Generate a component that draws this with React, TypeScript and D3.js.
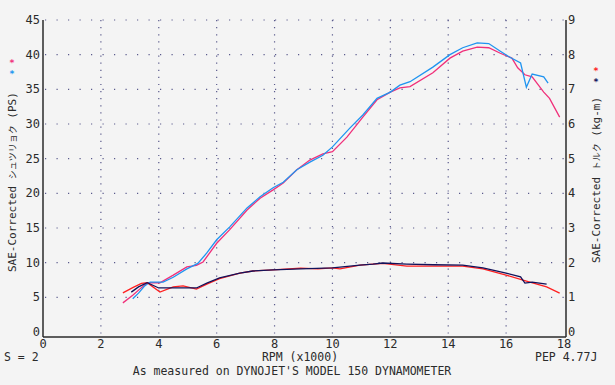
import React, { Component } from "react";
import * as d3 from "d3";

// power (PS) runs - pink and blue
const pinkRpm = [2.76, 3.1, 3.4, 3.6, 4.04, 4.5, 4.97, 5.3, 5.53, 6.0, 6.46, 7.05, 7.5, 7.95, 8.3, 8.77, 9.22, 9.67, 10.0, 10.5, 11.05, 11.54, 12.0, 12.33, 12.68, 13.47, 14.06, 14.5, 15.0, 15.4, 15.8, 16.2, 16.4, 16.65, 16.9, 17.3, 17.5, 17.85];
const pinkPs = [4.2, 5.3, 6.4, 7.1, 7.1, 8.2, 9.4, 9.6, 10.1, 12.8, 14.8, 17.6, 19.3, 20.5, 21.5, 23.4, 24.8, 25.7, 26.0, 28.1, 31.0, 33.5, 34.6, 35.2, 35.4, 37.4, 39.5, 40.5, 41.1, 41.0, 40.2, 39.5, 38.1, 37.1, 36.8, 34.6, 33.7, 31.0];

const blueRpm = [3.1, 3.3, 3.5, 3.7, 4.15, 4.5, 4.97, 5.35, 5.66, 6.0, 6.46, 7.05, 7.5, 7.95, 8.3, 8.77, 9.22, 9.67, 10.0, 10.6, 11.05, 11.54, 12.0, 12.33, 12.68, 13.47, 14.06, 14.5, 15.0, 15.4, 15.8, 16.1, 16.5, 16.7, 16.9, 17.3, 17.45];
const bluePs = [4.8, 5.6, 6.6, 7.2, 7.2, 7.9, 9.1, 9.9, 11.4, 13.3, 15.2, 17.9, 19.5, 20.8, 21.6, 23.4, 24.5, 25.5, 26.7, 29.4, 31.3, 33.7, 34.6, 35.6, 36.1, 38.2, 40.0, 41.0, 41.7, 41.6, 40.5, 39.7, 38.8, 35.3, 37.2, 36.8, 35.9];

// torque (kg-m) runs - red and navy
const redRpm = [2.76, 3.1, 3.4, 3.6, 4.04, 4.5, 4.84, 5.3, 5.66, 6.1, 6.8, 7.25, 7.95, 8.9, 9.5, 10.0, 10.26, 10.95, 11.4, 11.74, 12.57, 13.5, 14.5, 15.2, 16.0, 16.7, 17.4, 17.85];
const redKg = [1.13, 1.28, 1.4, 1.42, 1.15, 1.3, 1.33, 1.24, 1.38, 1.54, 1.7, 1.76, 1.79, 1.84, 1.82, 1.85, 1.82, 1.93, 1.96, 1.98, 1.9, 1.9, 1.9, 1.82, 1.64, 1.47, 1.3, 1.12];

const navyRpm = [3.05, 3.3, 3.6, 4.0, 4.5, 5.3, 5.66, 6.1, 6.8, 7.25, 7.95, 8.9, 10.0, 10.26, 10.95, 11.4, 11.74, 12.57, 13.5, 14.5, 15.2, 16.0, 16.5, 16.65, 16.9, 17.4];
const navyKg = [1.15, 1.3, 1.42, 1.27, 1.27, 1.27, 1.41, 1.56, 1.7, 1.76, 1.79, 1.82, 1.85, 1.87, 1.93, 1.96, 1.99, 1.96, 1.94, 1.93, 1.85, 1.7, 1.59, 1.41, 1.44, 1.38];

const xTicks = [0, 2, 4, 6, 8, 10, 12, 14, 16, 18];
const psTicks = [0, 5, 10, 15, 20, 25, 30, 35, 40, 45];
const kgTicks = [0, 1, 2, 3, 4, 5, 6, 7, 8, 9];

const FONT = "'DejaVu Sans Mono', 'Liberation Mono', monospace";
const INK = "#2b2b2b";

class App extends Component {
  svgRef = React.createRef<SVGSVGElement>();

  componentDidMount() {
    const width = 615;
    const height = 385;
    const left = 43, right = 566, top = 20, bottom = 332, axisY = 337;

    const svg = d3.select(this.svgRef.current).attr("width", width).attr("height", height);
    svg.selectAll("*").remove();
    svg.append("rect").attr("width", width).attr("height", height).attr("fill", "#f4f4f4");

    const xScale = d3.scaleLinear().domain([0, 18]).range([left, right - 2]);
    const yPs = d3.scaleLinear().domain([0, 45]).range([bottom, top]);
    const yKg = d3.scaleLinear().domain([0, 9]).range([bottom, top]);

    // dotted grid
    const grid = svg.append("g");
    grid.selectAll(".hgrid").data(psTicks.slice(1)).join("line").attr("class", "hgrid")
      .attr("x1", left + 2).attr("x2", right - 2)
      .attr("y1", d => yPs(d)).attr("y2", d => yPs(d))
      .attr("stroke", "#5a5a8c").attr("stroke-width", 1.2).attr("stroke-dasharray", "1.2,10.3");
    grid.selectAll(".vgrid").data(xTicks.slice(1, -1)).join("line").attr("class", "vgrid")
      .attr("x1", d => xScale(d)).attr("x2", d => xScale(d))
      .attr("y1", top).attr("y2", axisY)
      .attr("stroke", "#5a5a8c").attr("stroke-width", 1.2).attr("stroke-dasharray", "1.2,5.9");

    // axes frame
    svg.append("line").attr("x1", left).attr("x2", left).attr("y1", top).attr("y2", axisY).attr("stroke", INK).attr("stroke-width", 1.5);
    svg.append("line").attr("x1", right).attr("x2", right).attr("y1", top).attr("y2", axisY).attr("stroke", INK).attr("stroke-width", 1.5);
    svg.append("line").attr("x1", left).attr("x2", right).attr("y1", axisY).attr("y2", axisY).attr("stroke", INK).attr("stroke-width", 1.5);

    const txt = (g) => g.attr("font-family", FONT).attr("fill", INK);

    svg.selectAll(".ltick").data(psTicks).join("text").attr("class", "ltick").call(txt)
      .attr("x", left - 3).attr("y", d => yPs(d) + 4).attr("text-anchor", "end").attr("font-size", "12px").text(d => d);
    svg.selectAll(".rtick").data(kgTicks).join("text").attr("class", "rtick").call(txt)
      .attr("x", right + 2).attr("y", d => yKg(d) + 4).attr("font-size", "12px").text(d => d);
    svg.selectAll(".xtick").data(xTicks).join("text").attr("class", "xtick").call(txt)
      .attr("x", d => xScale(d)).attr("y", 348).attr("text-anchor", "middle").attr("font-size", "12px").text(d => d);

    // curves
    const series = [
      { rpm: pinkRpm, val: pinkPs, y: yPs, color: "#f0307a" },
      { rpm: blueRpm, val: bluePs, y: yPs, color: "#2094f0" },
      { rpm: redRpm, val: redKg, y: yKg, color: "#ff2020" },
      { rpm: navyRpm, val: navyKg, y: yKg, color: "#12125a" },
    ];
    series.forEach(s => {
      const line = d3.line<number>().x((d, i) => xScale(s.rpm[i])).y(d => s.y(d));
      svg.append("path").attr("d", line(s.val)).attr("fill", "none").attr("stroke", s.color).attr("stroke-width", 1.3);
    });

    // side titles
    const lt = svg.append("text").call(txt).attr("font-size", "11px")
      .attr("transform", "translate(16, 272) rotate(-90)");
    lt.append("tspan").text("SAE-Corrected ");
    lt.append("tspan").attr("font-family", "'Noto Sans CJK JP', sans-serif").attr("font-size", "9px").text("シュツリョク");
    lt.append("tspan").text(" (PS)");

    const rt = svg.append("text").call(txt).attr("font-size", "11px")
      .attr("transform", "translate(600, 263) rotate(-90)");
    rt.append("tspan").text("SAE-Corrected ");
    rt.append("tspan").attr("font-family", "'Noto Sans CJK JP', sans-serif").attr("font-size", "9px").text("トルク");
    rt.append("tspan").text(" (kg-m)");

    // legend stars
    const stars = [
      { x: 12, y: 62, c: "#f0307a" }, { x: 12, y: 73, c: "#2094f0" },
      { x: 596, y: 70, c: "#ff2020" }, { x: 596, y: 81, c: "#12125a" },
    ];
    svg.selectAll(".star").data(stars).join("text").attr("class", "star")
      .attr("x", d => d.x).attr("y", d => d.y + 4).attr("text-anchor", "middle")
      .attr("font-family", FONT).attr("font-size", "9px").attr("font-weight", "bold").attr("fill", d => d.c).text("*");

    // footer
    svg.append("text").call(txt).attr("x", 4).attr("y", 361).attr("font-size", "11.5px").text("S = 2");
    svg.append("text").call(txt).attr("x", 300).attr("y", 361).attr("text-anchor", "middle").attr("font-size", "11.5px").text("RPM (x1000)");
    svg.append("text").call(txt).attr("x", 535).attr("y", 361).attr("font-size", "11.5px").text("PEP 4.77J");
    svg.append("text").call(txt).attr("x", 292).attr("y", 375).attr("text-anchor", "middle").attr("font-size", "11.5px").text("As measured on DYNOJET'S MODEL 150 DYNAMOMETER");
  }

  render() {
    return <svg ref={this.svgRef} style={{ position: "fixed", left: 0, top: 0 }}></svg>;
  }
}

export default App;
